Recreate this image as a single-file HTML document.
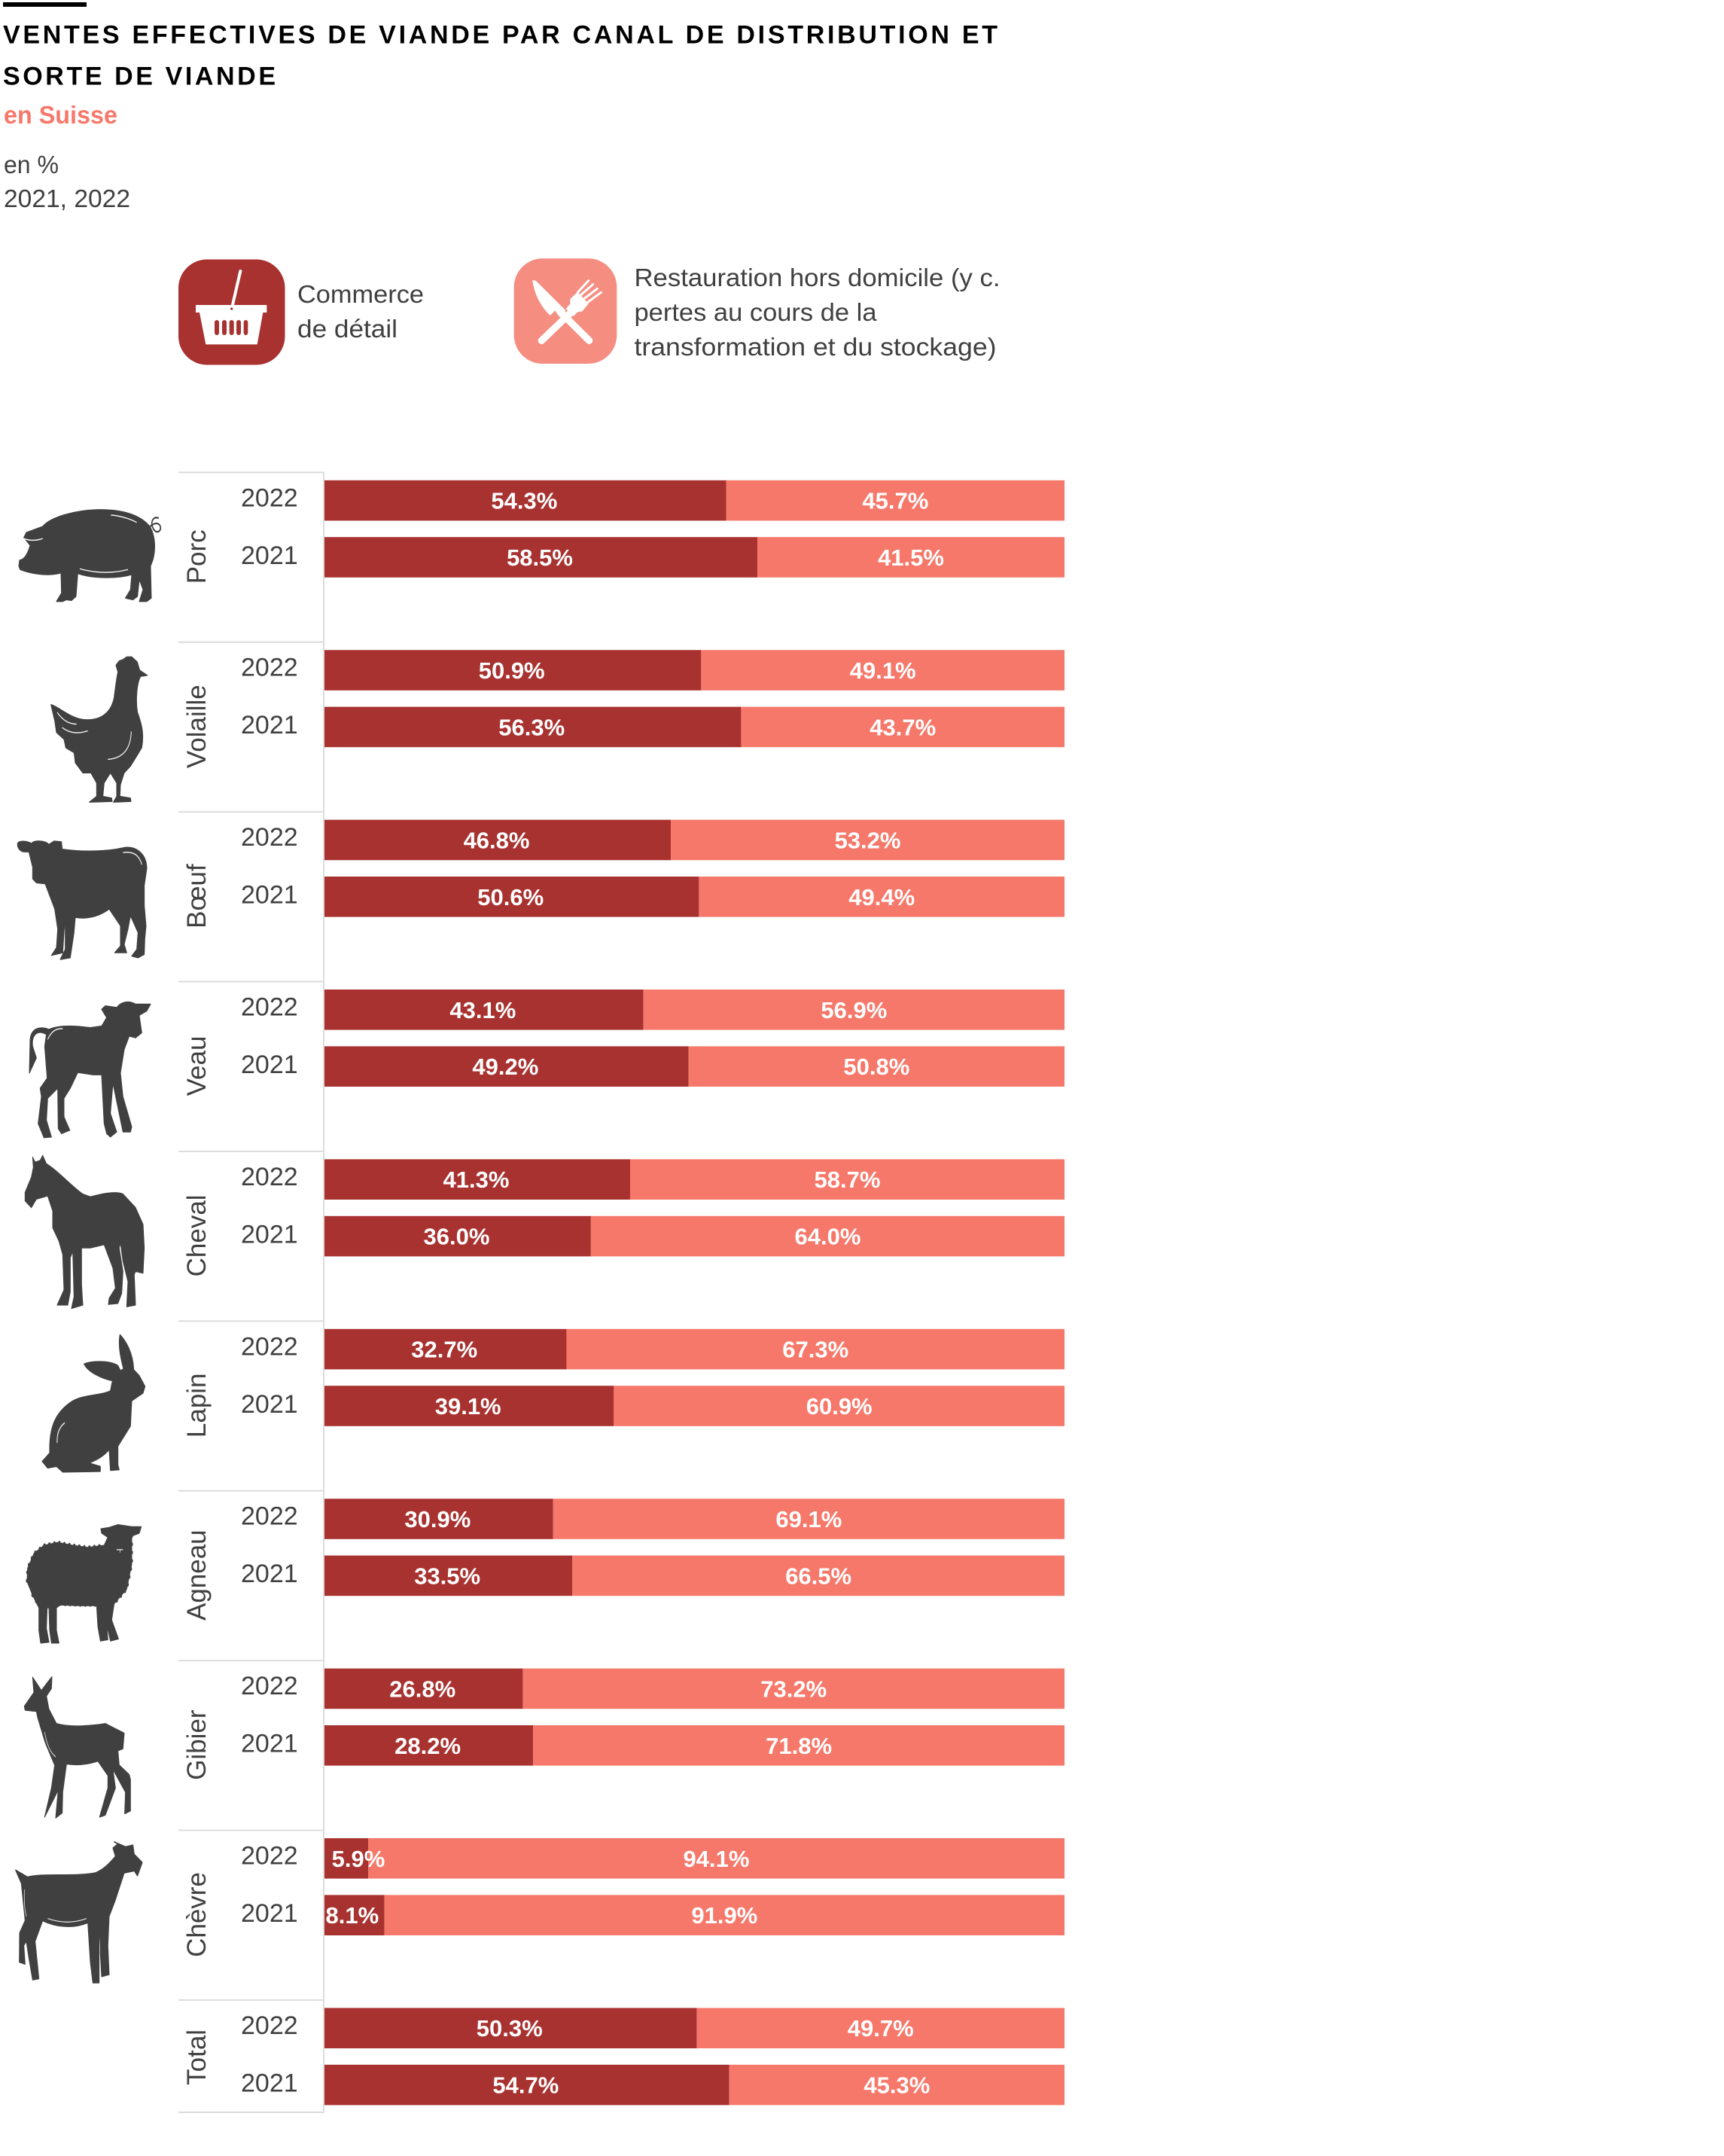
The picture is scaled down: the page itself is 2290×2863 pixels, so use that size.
<!DOCTYPE html>
<html lang="fr">
<head>
<meta charset="utf-8">
<title>Ventes effectives de viande</title>
<style>
html,body{margin:0;padding:0;background:#fff}
svg{display:block}
text{font-family:"Liberation Sans",sans-serif}
.sil>path:first-child{stroke:#404040;stroke-width:3;stroke-linejoin:round}
</style>
</head>
<body>
<svg id="chart" xmlns="http://www.w3.org/2000/svg" width="2290" height="2863" viewBox="0 0 2290 2863">
  <rect x="4" y="3" width="111" height="6" fill="#000"/>
  <g>
    <text x="4" y="57.5" font-size="34" font-weight="700" fill="#000" textLength="1321">VENTES EFFECTIVES DE VIANDE PAR CANAL DE DISTRIBUTION ET</text>
    <text x="4" y="112.5" font-size="34" font-weight="700" fill="#000" textLength="362">SORTE DE VIANDE</text>
    <text x="5" y="164" font-size="33" font-weight="700" fill="#f6786a" textLength="151" lengthAdjust="spacingAndGlyphs">en Suisse</text>
    <text x="5" y="230" font-size="33" fill="#404040" textLength="73" lengthAdjust="spacingAndGlyphs">en %</text>
    <text x="5" y="275" font-size="33" fill="#404040" textLength="168" lengthAdjust="spacingAndGlyphs">2021, 2022</text>
  </g>
  <g>
    <g>
      <rect x="237" y="344.5" width="141.5" height="140" rx="38" fill="#a83230"/>
      <g transform="translate(230,335) scale(.33333)" fill="#fff">
        <path d="M268 75 L235 218" stroke="#fff" stroke-width="12" stroke-linecap="round" fill="none"/>
        <path d="M90 210H373V240H358L335 367H130L105 240H90Z"/>
        <circle cx="233" cy="225" r="5" fill="#a83230"/>
        <g fill="#a83230">
          <rect x="165" y="270" width="18" height="60" rx="9"/>
          <rect x="195" y="270" width="18" height="60" rx="9"/>
          <rect x="224" y="270" width="18" height="60" rx="9"/>
          <rect x="252" y="270" width="18" height="60" rx="9"/>
          <rect x="281" y="270" width="17" height="60" rx="8.5"/>
        </g>
      </g>
      <text x="395" y="402" font-size="33" fill="#404040" textLength="168" lengthAdjust="spacingAndGlyphs">Commerce</text>
      <text x="395" y="448" font-size="33" fill="#404040" textLength="133" lengthAdjust="spacingAndGlyphs">de détail</text>
    </g>
    <g>
      <rect x="682.7" y="343.2" width="136.6" height="139.8" rx="38" fill="#f58d80"/>
      <g transform="translate(680,335) scale(.33333)" fill="#fff">
        <path d="M82 113 C88 108 96 114 104 122 L215 232 L190 258 L172 233 L152 252 C120 220 95 180 85 130 Z"/>
        <path d="M190 235 L308 352" stroke="#fff" stroke-width="28" stroke-linecap="round" fill="none"/>
        <path d="M118 352 L240 235" stroke="#fff" stroke-width="28" stroke-linecap="round" fill="none"/>
        <path d="M232 186 L262 158 L305 205 L280 235 L262 238 L245 255 L215 225 L232 205 Z"/>
        <path d="M262 160 L305 113 M272 172 L323 128 M285 187 L340 145 M298 202 L355 160" stroke="#fff" stroke-width="9" stroke-linecap="round" fill="none"/>
      </g>
      <text x="842.5" y="380" font-size="33" fill="#404040" textLength="486" lengthAdjust="spacingAndGlyphs">Restauration hors domicile (y c.</text>
      <text x="842.5" y="426" font-size="33" fill="#404040" textLength="322" lengthAdjust="spacingAndGlyphs">pertes au cours de la</text>
      <text x="842.5" y="472" font-size="33" fill="#404040" textLength="481" lengthAdjust="spacingAndGlyphs">transformation et du stockage)</text>
    </g>
  </g>
  <g fill="#404040">
    <g class="sil" transform="translate(0,600) scale(.3333,.4464)">
      <path d="M75 340 L78 322 C95 322 110 305 120 278 L95 255 L105 240 L170 222 C200 195 300 172 400 172 C480 172 560 185 600 225 C620 255 620 290 610 320 L600 340 L603 435 L585 445 L555 445 L570 410 L555 380 L548 430 L530 440 L500 435 L520 410 L525 365 C480 375 380 380 310 362 L303 430 L285 442 L265 440 L250 445 L225 445 L245 420 L243 360 C200 370 130 365 80 350 Z"/>
      <path d="M598 222 C625 205 640 215 640 228 C635 245 610 240 605 215 C605 198 620 192 632 198" fill="none" stroke="#404040" stroke-width="5"/>
      <path d="M442 188 Q500 192 545 210 M95 258 Q130 268 170 258 M318 348 Q420 368 510 350" fill="none" stroke="#fff" stroke-width="3"/>
    </g>
    <g class="sil" transform="translate(0,600) scale(.3333,.4464)">
      <path d="M203 752 C240 760 290 800 350 797 C410 797 445 770 455 730 C460 700 465 670 470 655 L462 635 L475 622 L490 618 L505 610 L525 610 L547 625 L557 650 L587 665 L560 668 C545 690 540 740 548 775 C565 810 575 840 565 880 L545 905 L520 935 L495 955 L480 990 L478 1025 L520 1030 L522 1040 L452 1042 L465 1025 L465 985 L440 955 L415 985 L410 1025 L445 1030 L447 1040 L356 1042 L385 1025 L385 985 L362 955 L330 955 L300 925 L295 895 L262 880 L255 855 L225 835 L218 800 Z"/>
      <path d="M228 775 Q260 810 305 810 M248 820 Q290 845 350 830 M523 832 Q520 910 430 915" fill="none" stroke="#fff" stroke-width="3"/>
    </g>
    <g class="sil" transform="translate(0,600) scale(.3333,.4464)">
      <path d="M70 1165 C75 1155 110 1158 125 1165 C135 1155 180 1155 195 1168 L215 1158 L245 1160 L248 1182 C320 1190 420 1190 490 1178 C540 1170 585 1195 585 1240 L575 1290 L575 1350 L582 1410 L577 1450 L575 1495 L550 1505 L525 1500 L545 1480 L550 1430 L520 1380 L510 1420 L495 1465 L505 1490 L457 1490 L480 1470 L480 1410 L435 1360 C390 1385 340 1390 300 1385 L295 1430 L280 1505 L240 1510 L260 1480 L260 1385 L255 1430 L250 1490 L205 1498 L225 1475 L230 1420 L218 1360 L180 1285 L145 1282 L130 1270 L130 1235 L115 1190 L95 1190 C80 1188 68 1178 70 1165 Z"/>
      <path d="M490 1192 Q550 1185 565 1228" fill="none" stroke="#fff" stroke-width="3"/>
    </g>
    <g class="sil" transform="translate(0,1300) scale(.3333,.4464)">
      <path d="M117 280 L120 180 C125 145 160 140 195 150 C240 135 310 140 360 145 L405 140 L425 115 L405 90 L420 80 L465 85 C480 70 510 62 540 75 L600 75 L585 95 L555 108 L565 160 L540 175 L515 170 L495 210 L480 280 L490 350 L525 440 L520 455 L490 455 L450 310 L440 400 L465 455 L440 470 L425 460 L415 430 L405 285 L370 285 L310 278 L280 325 L255 355 L255 410 L278 450 L245 460 L232 445 L230 325 L190 355 L185 420 L205 470 L175 472 L152 430 L165 350 L160 325 L188 295 L178 200 L185 165 C150 150 125 165 130 200 L145 235 Z"/>
      <path d="M190 180 Q210 145 250 148" fill="none" stroke="#fff" stroke-width="3"/>
    </g>
    <g class="sil" transform="translate(0,1300) scale(.3333,.4464)">
      <path d="M130 530 L140 545 L160 540 L170 525 L185 550 C230 570 290 620 330 640 L360 648 C400 640 460 630 490 640 L540 680 L570 730 L575 800 L570 875 L540 870 L535 880 L540 970 L505 975 L510 900 L490 840 L480 785 L475 800 L490 870 L485 935 L470 965 L432 968 L435 950 L460 920 L450 860 L415 790 L360 800 L325 800 L325 910 L330 970 L285 980 L295 945 L290 810 L280 830 L280 930 L270 970 L228 970 L255 925 L250 820 L235 780 L210 740 L210 690 L190 645 L145 655 L125 680 L100 660 L100 635 L125 590 L133 560 Z"/>
    </g>
    <g class="sil" transform="translate(0,1300) scale(.3333,.4464)">
      <path d="M478 1058 C500 1075 530 1110 533 1162 L555 1180 L578 1212 L570 1232 L525 1255 L520 1330 L470 1390 L470 1445 L475 1460 L440 1462 L435 1400 C420 1415 390 1430 355 1440 L400 1450 L400 1465 L250 1467 L225 1450 L190 1455 L168 1435 L198 1410 C195 1340 215 1290 290 1255 C340 1235 400 1240 440 1225 L448 1195 C410 1190 350 1170 335 1145 C370 1135 440 1135 470 1150 L480 1165 L492 1160 C480 1125 470 1090 478 1058 Z"/>
      <path d="M258 1320 Q225 1340 228 1380" fill="none" stroke="#fff" stroke-width="3"/>
    </g>
    <g class="sil" transform="translate(0,2000) scale(.3333,.5504)">
      <path d="M108 180 L110 150 L135 115 L175 95 L230 88 L290 95 L350 100 L415 95 L430 75 L405 65 L402 55 L435 52 L470 45 L525 50 L563 50 L555 65 L525 72 L525 140 L505 200 L455 235 L445 275 L472 320 L440 325 L425 285 L430 322 L400 325 L390 290 L385 240 L320 240 L240 238 L225 245 L225 300 L235 330 L205 330 L198 300 L195 245 L188 245 L185 295 L195 328 L162 330 L155 300 L155 245 L130 215 L110 185 Z"/>
      <path d="M108 180 L110 150 L135 115 L175 95 L230 88 L290 95 L350 100 L415 95 M525 72 L525 140 L505 200 L455 235 M130 215 L155 240 L240 236 L320 238 L385 238" fill="none" stroke="#404040" stroke-width="10" stroke-linecap="round" stroke-dasharray="0 20"/>
      <path d="M465 105 L490 105 M478 105 L478 112" fill="none" stroke="#fff" stroke-width="2"/>
    </g>
    <g class="sil" transform="translate(0,2000) scale(.3333,.5504)">
      <path d="M130 413 L165 445 L190 425 L207 412 L205 440 L185 458 L195 490 L225 525 C280 535 370 530 420 525 L495 548 L490 585 L470 590 L475 625 L515 648 L520 660 L520 735 L497 742 L500 690 L450 635 L460 680 L420 745 L397 750 L430 680 L430 650 L390 615 C340 625 300 625 265 622 L250 690 L248 740 L222 752 L232 685 L178 750 L205 680 L218 625 L180 570 L150 510 L145 495 L100 492 L97 483 L135 450 Z"/>
      <path d="M178 545 Q190 590 222 605" fill="none" stroke="#fff" stroke-width="2"/>
    </g>
    <g class="sil" transform="translate(0,2000) scale(.3333,.5504)">
      <path d="M62 878 L110 895 C170 885 300 895 380 885 C420 875 445 855 460 845 L450 825 L470 815 L455 810 L500 822 L530 818 L535 840 L567 860 L555 880 L548 892 L535 880 L495 885 L460 950 L435 990 L430 1060 L435 1130 L405 1135 L400 1080 L400 1010 L395 1060 L395 1150 L370 1150 L360 1100 L350 1005 C290 1020 220 1015 170 1000 L140 1050 L155 1140 L130 1143 L115 1090 L105 1050 L95 1060 L100 1105 L77 1100 L78 1030 L100 1000 L85 910 Z"/>
      <path d="M97 925 Q95 970 105 990 M190 995 Q270 1012 345 995" fill="none" stroke="#fff" stroke-width="2"/>
    </g>
  </g>
  <g id="plot"></g>
</svg>
<script>
const categories = ["Porc","Volaille","Bœuf","Veau","Cheval","Lapin","Agneau","Gibier","Chèvre","Total"];
const years = ["2022","2021"];
const retail2022 = [54.3,50.9,46.8,43.1,41.3,32.7,30.9,26.8,5.9,50.3];
const retail2021 = [58.5,56.3,50.6,49.2,36.0,39.1,33.5,28.2,8.1,54.7];
const foodservice2022 = [45.7,49.1,53.2,56.9,58.7,67.3,69.1,73.2,94.1,49.7];
const foodservice2021 = [41.5,43.7,49.4,50.8,64.0,60.9,66.5,71.8,91.9,45.3];

const NS = "http://www.w3.org/2000/svg";
const plot = document.getElementById("plot");
const xScale = v => v / 100 * 983;
const X0 = 431;
const groupTop = i => 627.3 + 225.4 * i;
const barTop = (i, r) => groupTop(i) + 10.5 + r * 75.4;
const BAR_H = 53.6;

function make(tag, attrs, text) {
  const el = document.createElementNS(NS, tag);
  for (const k in attrs) el.setAttribute(k, attrs[k]);
  if (text !== undefined) el.textContent = text;
  plot.appendChild(el);
  return el;
}
function labelNudge(w) {
  if (w < 65) return 16;
  if (w < 90) return -3;
  return -1.5;
}

categories.forEach((cat, i) => {
  const top = groupTop(i);
  const slug = cat.toLowerCase();
  const line = make("rect", {x: 237, y: top - 1, width: 193, height: 2, fill: "#dcdcdc"});
  
  

  const h = i === categories.length - 1 ? 150 : 222;
  const cy = top + h / 2 + 1;
  const label = make("text", {x: 0, y: 0, "font-size": 35, fill: "#404040", "text-anchor": "middle",
    transform: "translate(273," + cy + ") rotate(-90)"}, cat);
  
  

  years.forEach((yr, r) => {
    const yLabel = make("text", {x: 320, y: top + 45 + r * 76.5, "font-size": 34, fill: "#404040"}, yr);
    
    

    const a = (r === 0 ? retail2022 : retail2021)[i];
    const b = (r === 0 ? foodservice2022 : foodservice2021)[i];
    const y = barTop(i, r);
    const wa = xScale(a), wb = xScale(b);

    const barA = make("rect", {x: X0, y: y, width: wa, height: BAR_H, fill: "#a83230"});
    
    
    const barB = make("rect", {x: X0 + wa, y: y, width: wb, height: BAR_H, fill: "#f6786a"});
    
    

    const tA = make("text", {x: X0 + wa / 2 + labelNudge(wa), y: y + BAR_H / 2 + 11, "font-size": 31, "font-weight": 700,
      fill: "#fff", "text-anchor": "middle"}, a.toFixed(1) + "%");
    
    
    const tB = make("text", {x: X0 + wa + wb / 2, y: y + BAR_H / 2 + 11, "font-size": 31, "font-weight": 700,
      fill: "#fff", "text-anchor": "middle"}, b.toFixed(1) + "%");
    
    
  });
});

const bottom = make("rect", {x: 237, y: 2804, width: 193, height: 2, fill: "#dcdcdc"});


const axis = make("rect", {x: 429, y: 626.3, width: 2, height: 2179.7, fill: "#dcdcdc"});


</script>
</body>
</html>
